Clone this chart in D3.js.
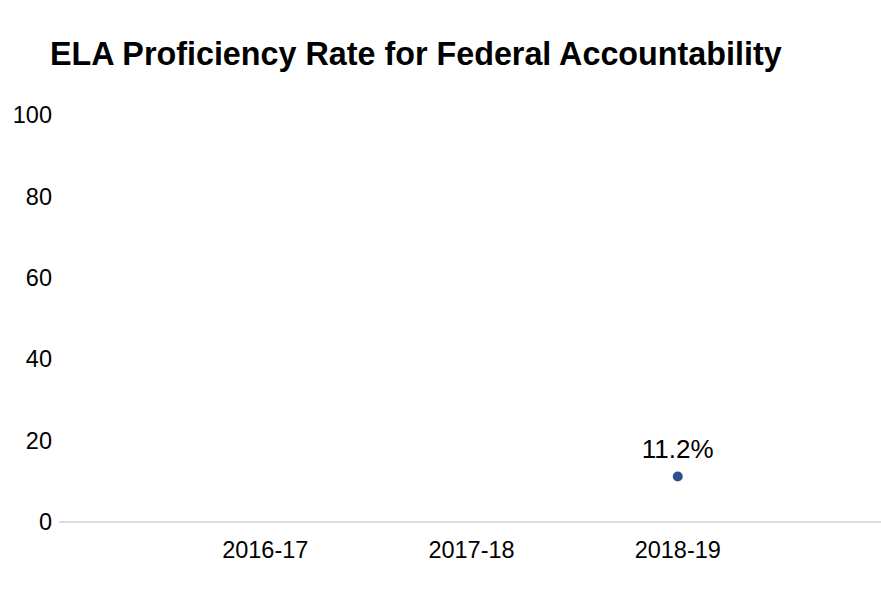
<!DOCTYPE html>
<html><head><meta charset="utf-8">
<script src="https://cdn.jsdelivr.net/npm/d3@7"></script>
<style>body{margin:0;background:#fff;font-family:"Liberation Sans",Arial,sans-serif;}</style>
</head><body>
<svg id="c" width="881" height="592"></svg>
<script>
const categories = ["2016-17", "2017-18", "2018-19"];
const values = [null, null, 11.2];
const yTicks = [0, 20, 40, 60, 80, 100];
const title = "ELA Proficiency Rate for Federal Accountability";

const svg = d3.select("#c");
const x = d3.scalePoint().domain(categories).range([59, 884]).padding(1);
const y = d3.scaleLinear().domain([0, 100]).range([522, 115]);

svg.append("text").attr("x", 50).attr("y", 65)
  .attr("font-size", 32.3).attr("font-weight", "bold").attr("fill", "#000")
  .text(title);

svg.append("g").selectAll("text").data(yTicks).join("text")
  .attr("x", 52).attr("y", d => y(d)).attr("dy", "0.35em")
  .attr("text-anchor", "end").attr("font-size", 23.5).attr("fill", "#000")
  .text(d => d);

svg.append("line").attr("x1", 59).attr("x2", 881).attr("y1", y(0)).attr("y2", y(0))
  .attr("stroke", "#dcdcdc").attr("stroke-width", 2);

svg.append("g").selectAll("text").data(categories).join("text")
  .attr("x", d => x(d)).attr("y", 550).attr("dy", "0.35em")
  .attr("text-anchor", "middle").attr("font-size", 23.5).attr("fill", "#000")
  .text(d => d);

const pts = categories.map((c, i) => ({c, v: values[i]})).filter(d => d.v != null);
svg.append("g").selectAll("circle").data(pts).join("circle")
  .attr("cx", d => x(d.c)).attr("cy", d => y(d.v)).attr("r", 5)
  .attr("fill", "#2d4f8b");
svg.append("g").selectAll("text").data(pts).join("text")
  .attr("x", d => x(d.c)).attr("y", d => y(d.v) - 28).attr("dy", "0.35em")
  .attr("text-anchor", "middle").attr("font-size", 26).attr("fill", "#000")
  .text(d => d.v.toFixed(1) + "%");
</script>
</body></html>
